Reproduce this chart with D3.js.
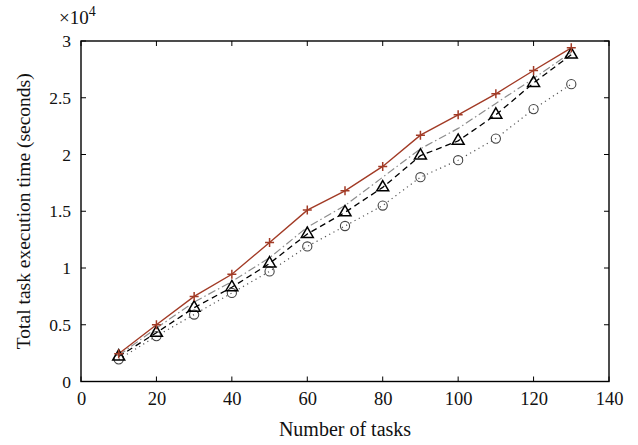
<!DOCTYPE html>
<html><head><meta charset="utf-8">
<script src="https://cdn.jsdelivr.net/npm/d3@7"></script>
<style>body{margin:0;background:#fff}svg{display:block}text{font-family:"Liberation Serif","Times New Roman",serif;fill:#111}</style>
</head><body><svg id="c" width="638" height="445"></svg>
<script>
const tasks = [10,20,30,40,50,60,70,80,90,100,110,120,130];
const seriesPlus = [2450,5000,7500,9450,12250,15100,16800,18950,21700,23500,25350,27400,29400];
const seriesDashDot = [2300,4700,7000,8800,10900,13600,15500,18000,20500,22300,24500,26700,29000];
const seriesTriangle = [2200,4300,6500,8300,10400,13000,14900,17100,19900,21200,23500,26300,28800];
const seriesCircle = [1950,4000,5900,7800,9700,11900,13700,15500,18000,19500,21400,24000,26200];
const xTicks = [0,20,40,60,80,100,120,140];
const yTicks = [0,5000,10000,15000,20000,25000,30000];
const yTickLabels = ["0","0.5","1","1.5","2","2.5","3"];

const svg = d3.select("#c");
const L=81, R=609, T=41, B=381.5;
const x = d3.scaleLinear().domain([0,140]).range([L,R]);
const y = d3.scaleLinear().domain([0,30000]).range([B,T]);

const g = svg.append("g");
const tl = 5;
xTicks.forEach(v=>{
  g.append("line").attr("x1",x(v)).attr("x2",x(v)).attr("y1",B).attr("y2",B-tl).attr("stroke","#000");
  g.append("line").attr("x1",x(v)).attr("x2",x(v)).attr("y1",T).attr("y2",T+tl).attr("stroke","#000");
});
yTicks.forEach(v=>{
  g.append("line").attr("y1",y(v)).attr("y2",y(v)).attr("x1",L).attr("x2",L+tl).attr("stroke","#000");
  g.append("line").attr("y1",y(v)).attr("y2",y(v)).attr("x1",R).attr("x2",R-tl).attr("stroke","#000");
});
const xa = svg.append("g").attr("transform",`translate(0,${B})`)
  .call(d3.axisBottom(x).tickValues(xTicks).tickSize(0).tickPadding(10).tickFormat(d3.format("d")));
xa.select(".domain").remove();
xa.selectAll("text").attr("font-size",18.5).attr("font-family","Liberation Serif").attr("fill","#111");
const ya = svg.append("g").attr("transform",`translate(${L},0)`)
  .call(d3.axisLeft(y).tickValues(yTicks).tickSize(0).tickPadding(10).tickFormat((d,i)=>yTickLabels[i]));
ya.select(".domain").remove();
ya.selectAll("text").attr("font-size",17.5).attr("font-family","Liberation Serif").attr("fill","#111");

svg.append("rect").attr("x",L).attr("y",T).attr("width",R-L).attr("height",B-T)
  .attr("fill","none").attr("stroke","#000").attr("stroke-width",1.4);

const line = d3.line().x((d,i)=>x(tasks[i])).y(d=>y(d));
svg.append("path").datum(seriesCircle).attr("d",line).attr("fill","none")
  .attr("stroke","#555").attr("stroke-width",1.2).attr("stroke-dasharray","1.2,3.6");
svg.append("path").datum(seriesDashDot).attr("d",line).attr("fill","none")
  .attr("stroke","#8c8c8c").attr("stroke-width",1.2).attr("stroke-dasharray","8,3,1.5,3");
svg.append("path").datum(seriesTriangle).attr("d",line).attr("fill","none")
  .attr("stroke","#000").attr("stroke-width",1.3).attr("stroke-dasharray","6,4");
svg.append("path").datum(seriesPlus).attr("d",line).attr("fill","none")
  .attr("stroke","#a23b26").attr("stroke-width",1.4);

svg.append("g").selectAll("circle").data(seriesCircle).join("circle")
  .attr("cx",(d,i)=>x(tasks[i])).attr("cy",d=>y(d)).attr("r",4.6)
  .attr("fill","none").attr("stroke","#444").attr("stroke-width",1.1);
const tri = d3.symbol().type(d3.symbolTriangle).size(62);
svg.append("g").selectAll("path").data(seriesTriangle).join("path")
  .attr("d",tri).attr("transform",(d,i)=>`translate(${x(tasks[i])},${y(d)})`)
  .attr("fill","none").attr("stroke","#000").attr("stroke-width",1.5);
svg.append("g").selectAll("path").data(seriesPlus).join("path")
  .attr("d",d=>"M-4.5,0H4.5M0,-4.5V4.5").attr("transform",(d,i)=>`translate(${x(tasks[i])},${y(d)})`)
  .attr("fill","none").attr("stroke","#a23b26").attr("stroke-width",1.5);

svg.append("text").attr("x",(L+R)/2).attr("y",436).attr("text-anchor","middle")
  .attr("font-size",20).text("Number of tasks");
svg.append("text").attr("transform",`translate(30,${(T+B)/2}) rotate(-90)`).attr("text-anchor","middle")
  .attr("font-size",19.5).text("Total task execution time (seconds)");
const m = svg.append("text").attr("x",59).attr("y",24).attr("font-size",19);
m.append("tspan").text("×10");
m.append("tspan").attr("dy",-8).attr("font-size",14).text("4");
</script>
</body></html>
